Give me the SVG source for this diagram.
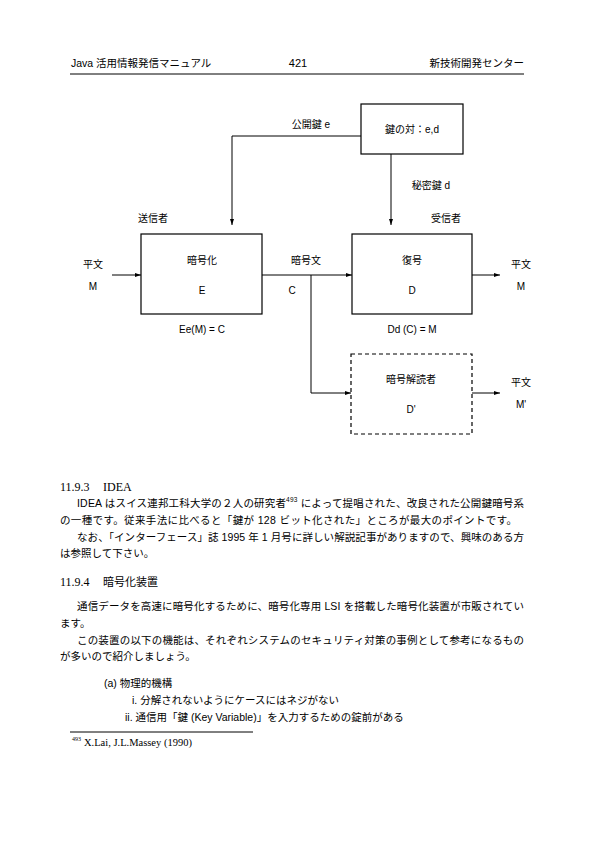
<svg xmlns="http://www.w3.org/2000/svg" width="595" height="841" viewBox="0 0 595 841">
<style>
text{font-family:"Liberation Sans","Noto Sans CJK JP",sans-serif;font-size:10px;fill:#000}
.j{font-family:"Liberation Sans","Noto Sans CJK JP",sans-serif;font-size:10.5px}
.s{font-family:"Liberation Serif","Noto Sans CJK JP",serif;font-size:12px}
.c{text-anchor:middle}
.ln{fill:none;stroke:#000;stroke-width:1}
.box{fill:#fff;stroke:#000;stroke-width:1.2}
.dash{fill:#fff;stroke:#000;stroke-width:1.2;stroke-dasharray:4,3}
</style>
<defs>
<marker id="ar" viewBox="0 0 6 6" refX="6" refY="3" markerWidth="6" markerHeight="6" markerUnits="userSpaceOnUse" orient="auto">
<path d="M0,1 L6,3 L0,5 z" fill="#000"/>
</marker>
</defs>
<rect width="595" height="841" fill="#fff"/>
<g id="header">
<text x="71" y="67" class="j">Java 活用情報発信マニュアル</text>
<text x="298" y="67" class="c" style="font-size:11px">421</text>
<text x="524" y="67" class="j" text-anchor="end">新技術開発センター</text>
<line x1="70" y1="74" x2="524" y2="74" class="ln"/>
</g>
<g id="connectors">
<polyline points="361,136 232,136 232,225" class="ln" marker-end="url(#ar)"/>
<line x1="391" y1="154" x2="391" y2="225" class="ln" marker-end="url(#ar)"/>
<line x1="112" y1="275" x2="141" y2="275" class="ln" marker-end="url(#ar)"/>
<line x1="262" y1="275" x2="352" y2="275" class="ln" marker-end="url(#ar)"/>
<line x1="472" y1="275" x2="500" y2="275" class="ln" marker-end="url(#ar)"/>
<polyline points="311,275 311,393 351,393" class="ln" marker-end="url(#ar)"/>
<line x1="472" y1="393" x2="500" y2="393" class="ln" marker-end="url(#ar)"/>
</g>
<g id="keypair">
<rect x="361" y="104" width="102" height="50" class="box"/>
<text x="412" y="133" class="c">鍵の対：e,d</text>
</g>
<g id="encrypt">
<rect x="141" y="234" width="121" height="80" class="box"/>
<text x="202" y="264" class="c">暗号化</text>
<text x="202" y="294" class="c">E</text>
</g>
<g id="decrypt">
<rect x="352" y="234" width="120" height="80" class="box"/>
<text x="412" y="264" class="c">復号</text>
<text x="412" y="294" class="c">D</text>
</g>
<g id="attacker">
<rect x="351" y="354" width="121" height="80" class="dash"/>
<text x="411" y="383" class="c">暗号解読者</text>
<text x="411" y="413" class="c">D'</text>
</g>
<g id="labels">
<text x="311" y="128" class="c">公開鍵 e</text>
<text x="431" y="189" class="c">秘密鍵 d</text>
<text x="153" y="222" class="c">送信者</text>
<text x="446" y="222" class="c">受信者</text>
<text x="93" y="268" class="c">平文</text>
<text x="93" y="290" class="c">M</text>
<text x="306" y="264" class="c">暗号文</text>
<text x="292" y="294" class="c">C</text>
<text x="521" y="268" class="c">平文</text>
<text x="521" y="290" class="c">M</text>
<text x="202" y="333" class="c">Ee(M) = C</text>
<text x="412" y="333" class="c">Dd (C) = M</text>
<text x="521" y="386" class="c">平文</text>
<text x="521" y="408" class="c">M'</text>
</g>
<g id="body">
<text x="60" y="491" class="s">11.9.3</text>
<text x="103" y="491" class="s">IDEA</text>
<text x="77" y="507" class="j" textLength="447" lengthAdjust="spacing">IDEA はスイス連邦工科大学の２人の研究者<tspan dy="-5" style="font-size:6.5px">493</tspan><tspan dy="5"> によって提唱された、改良された公開鍵暗号系</tspan></text>
<text x="60" y="524" class="j" textLength="457" lengthAdjust="spacing">の一種です。従来手法に比べると「鍵が 128 ビット化された」ところが最大のポイントです。</text>
<text x="77" y="541" class="j" textLength="447" lengthAdjust="spacing">なお、「インターフェース」誌 1995 年 1 月号に詳しい解説記事がありますので、興味のある方</text>
<text x="60" y="557" class="j">は参照して下さい。</text>
<text x="60" y="586" class="s">11.9.4</text>
<text x="103" y="586" class="j" style="font-size:11px">暗号化装置</text>
<text x="77" y="610" class="j" textLength="447" lengthAdjust="spacing">通信データを高速に暗号化するために、暗号化専用 LSI を搭載した暗号化装置が市販されてい</text>
<text x="60" y="627" class="j">ます。</text>
<text x="77" y="644" class="j" textLength="447" lengthAdjust="spacing">この装置の以下の機能は、それぞれシステムのセキュリティ対策の事例として参考になるもの</text>
<text x="60" y="660" class="j">が多いので紹介しましょう。</text>
<text x="104" y="687" class="j">(a)  物理的機構</text>
<text x="132" y="704" class="j">i.  分解されないようにケースにはネジがない</text>
<text x="125" y="721" class="j">ii.  通信用「鍵 (Key Variable)」を入力するための錠前がある</text>
<line x1="70" y1="732" x2="253" y2="732" class="ln"/>
<text x="72" y="741" class="s" style="font-size:6px">493</text>
<text x="84" y="746" class="s" style="font-size:10.5px">X.Lai, J.L.Massey (1990)</text>
</g>
</svg>
